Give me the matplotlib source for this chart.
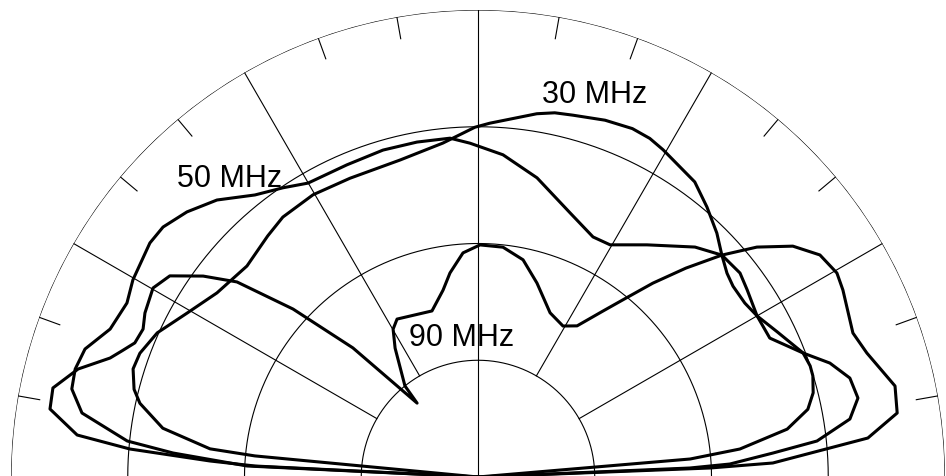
import numpy as np
import matplotlib
matplotlib.use('Agg')
import matplotlib.pyplot as plt

##########################################################################
# Radiation patterns (elevation angle in degrees, normalised radius)
theta_30 = [4.9, 4.85, 6.1, 8.8, 11.6, 14.1, 16.8, 18.5, 20.9, 25.9, 30.0,
            33.1, 36.8, 39.3, 42.3, 45.6, 49.7, 53.7, 60.5, 63.1, 66.1, 70.4,
            75.3, 78.1, 80.8, 88.1, 90.5, 96.0, 103.8, 113.2, 120.3, 126.9,
            131.1, 137.6, 144.8, 150.6, 155.8, 159.9, 162.6, 165.7, 167.7,
            171.2, 174.0, 174.6, 174.8]
r_30 = [0.0, 0.456, 0.564, 0.670, 0.721, 0.740, 0.749, 0.750, 0.745, 0.712,
        0.690, 0.682, 0.682, 0.689, 0.706, 0.731, 0.758, 0.784, 0.805, 0.813,
        0.816, 0.811, 0.801, 0.797, 0.788, 0.758, 0.749, 0.719, 0.699, 0.696,
        0.700, 0.696, 0.685, 0.670, 0.684, 0.715, 0.753, 0.771, 0.774, 0.760,
        0.741, 0.683, 0.577, 0.480, 0.0]

theta_50 = [2.4, 2.43, 2.95, 4.65, 6.06, 8.86, 11.74, 14.90, 17.94, 20.88,
            25.46, 29.99, 34.81, 37.90, 42.30, 46.66, 53.93, 60.36, 64.40,
            70.79, 78.84, 85.56, 91.37, 94.72, 100.32, 106.20, 112.78, 120.04,
            124.00, 128.34, 133.30, 137.67, 141.56, 144.50, 150.27, 153.63,
            158.09, 161.96, 165.00, 167.77, 170.82, 174.14, 175.50, 177.27,
            177.4]
r_50 = [0.0, 0.454, 0.540, 0.634, 0.730, 0.806, 0.831, 0.824, 0.792, 0.745,
        0.692, 0.690, 0.702, 0.711, 0.706, 0.677, 0.615, 0.572, 0.570, 0.599,
        0.653, 0.692, 0.715, 0.728, 0.729, 0.729, 0.725, 0.727, 0.747, 0.770,
        0.815, 0.843, 0.861, 0.863, 0.851, 0.839, 0.849, 0.885, 0.893, 0.890,
        0.859, 0.755, 0.655, 0.495, 0.0]

theta_90 = [2.2, 2.22, 2.72, 5.71, 8.68, 12.31, 17.68, 21.01, 25.75, 27.13,
            29.61, 33.00, 36.25, 39.50, 42.30, 45.14, 47.95, 50.41, 53.01,
            56.75, 60.62, 66.30, 73.08, 78.28, 83.80, 89.51, 93.83, 97.82,
            100.60, 105.49, 117.14, 119.87, 122.76, 128.73, 129.50, 134.10,
            137.76, 141.02, 143.83, 146.87, 149.82, 153.78, 156.17, 158.66,
            160.51, 162.08, 164.89, 168.17, 170.97, 174.02, 175.40, 176.58,
            177.18, 177.3]
r_90 = [0.0, 0.497, 0.632, 0.839, 0.908, 0.914, 0.874, 0.860, 0.873, 0.878,
        0.884, 0.873, 0.836, 0.774, 0.706, 0.631, 0.559, 0.497, 0.445, 0.387,
        0.371, 0.384, 0.434, 0.475, 0.495, 0.497, 0.481, 0.441, 0.407, 0.369,
        0.380, 0.365, 0.328, 0.250, 0.205, 0.385, 0.535, 0.664, 0.729, 0.788,
        0.805, 0.795, 0.784, 0.789, 0.809, 0.828, 0.887, 0.930, 0.928, 0.863,
        0.748, 0.575, 0.478, 0.0]

labels = ['30 MHz', '50 MHz', '90 MHz']
label_theta = [72.7, 130.65, 97.2]
label_r = [0.839, 0.818, 0.283]

rings = [0.25, 0.5, 0.75, 1.0]
spokes = [30, 60, 120, 150]
ticks = [10, 20, 40, 50, 70, 80, 100, 110, 130, 140, 160, 170]

##########################################################################
# Polar axes keep a square box; the half disc sits in its middle band,
# so the box is 934 px square with the pole 1 px below the image edge.
W, H = 946., 476.
R = 467.
cx, cy = 478., -1.
fig = plt.figure(figsize=(W/100, H/100), dpi=100)
ax = fig.add_axes([(cx-R)/W, (cy-R/2)/H, 2*R/W, 2*R/H], projection='polar')
ax.set_thetamin(0)
ax.set_thetamax(180)
ax.set_ylim(0, 1)
ax.axis('off')

### grid
t = np.linspace(0, np.pi, 721)
for rr in rings:
    ax.plot(t, np.full_like(t, rr), color='black', lw=0.8)
for a in spokes:
    ax.plot([np.deg2rad(a)]*2, [0.25, 1.0], color='black', lw=0.8)
ax.plot([np.pi/2]*2, [0.0, 1.0], color='black', lw=0.8)
for a in ticks:
    ax.plot([np.deg2rad(a)]*2, [0.953, 1.0], color='black', lw=0.8)

### patterns
for th, rr in [(theta_30, r_30), (theta_50, r_50), (theta_90, r_90)]:
    ax.plot(np.deg2rad(th), rr, color='black', lw=2.2, solid_joinstyle='round')

for lab, th, rr in zip(labels, label_theta, label_r):
    ax.text(np.deg2rad(th), rr, lab, ha='center', va='baseline',
            fontsize=22, family='Liberation Sans', color='black')

fig.savefig('out.png', dpi=100)
